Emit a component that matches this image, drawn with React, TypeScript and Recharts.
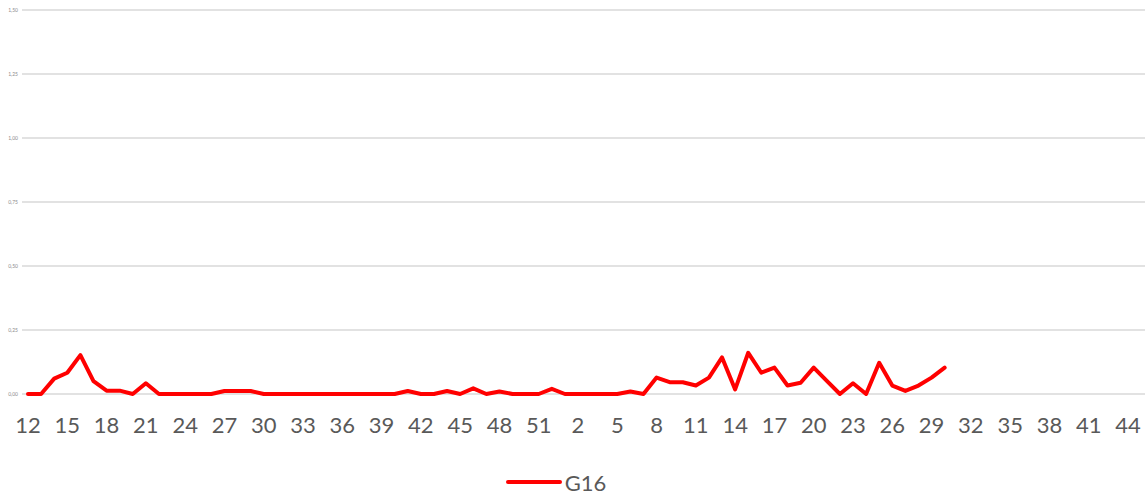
import React from "react";
import { LineChart, Line, XAxis, YAxis, CartesianGrid, Legend } from "recharts";

const weeks2020: string[] = [
  "12","13","14","15","16","17","18","19","20","21","22","23","24","25","26","27","28","29","30","31",
  "32","33","34","35","36","37","38","39","40","41","42","43","44","45","46","47","48","49","50","51","52",
];
const values2020: number[] = [
  0, 0, 0.06, 0.083, 0.152, 0.05, 0.013, 0.013, 0, 0.042, 0, 0, 0, 0, 0, 0.012, 0.012, 0.012, 0, 0,
  0, 0, 0, 0, 0, 0, 0, 0, 0, 0.012, 0, 0, 0.012, 0, 0.022, 0, 0.01, 0, 0, 0, 0.02,
];
const weeks2021: string[] = [
  "1","2","3","4","5","6","7","8","9","10","11","12","13","14","15","16","17","18","19","20","21","22",
  "23","24","25","26","27","28","29","30","31","32","33","34","35","36","37","38","39","40","41","42","43","44",
];
const values2021: (number | null)[] = [
  0, 0, 0, 0, 0, 0.01, 0, 0.064, 0.046, 0.046, 0.033, 0.064, 0.143, 0.018, 0.161, 0.083, 0.103, 0.033,
  0.044, 0.103, 0.051, 0, 0.042, 0, 0.122, 0.033, 0.012, 0.033, 0.064, 0.103,
  null, null, null, null, null, null, null, null, null, null, null, null, null, null,
];
const yTicks: number[] = [0, 0.25, 0.5, 0.75, 1, 1.25, 1.5];
const seriesName = "G16";

const categories = [...weeks2020, ...weeks2021];
const values = [...values2020, ...values2021];
const data = categories.map((w, i) => ({ week: w, G16: values[i] }));

const LegendContent = () => (
  <div style={{ display: "flex", justifyContent: "center", alignItems: "center", height: 26, paddingRight: 34 }}>
    <svg width={58} height={10} style={{ marginRight: 2 }}>
      <line x1={3} y1={5} x2={55} y2={5} stroke="#FF0000" strokeWidth={4} strokeLinecap="round" />
    </svg>
    <span style={{ fontFamily: "Lato, 'Liberation Sans', sans-serif", fontSize: 22, color: "#595959" }}>
      {seriesName}
    </span>
  </div>
);

export default function App() {
  return (
    <div style={{ position: "absolute", left: 0, top: 0, width: 1145, height: 495, background: "#fff" }}>
      <LineChart
        width={1145}
        height={495}
        data={data}
        margin={{ top: 10, right: 0, bottom: 0, left: 0 }}
      >
        <CartesianGrid vertical={false} stroke="#d9d9d9" strokeWidth={1.5} />
        <XAxis
          dataKey="week"
          interval={2}
          axisLine={false}
          tickLine={false}
          tickSize={0}
          tickMargin={23}
          height={75}
          padding={{ left: 6, right: 17 }}
          tick={{ fill: "#595959", fontSize: 22, fontFamily: "Lato, 'Liberation Sans', sans-serif" }}
        />
        <YAxis
          domain={[0, 1.5]}
          ticks={yTicks}
          width={22}
          axisLine={false}
          tickLine={false}
          tickSize={0}
          tickMargin={4}
          tickFormatter={(v: number) => v.toFixed(2).replace(".", ",")}
          tick={{ fill: "#8c8c8c", fontSize: 5, fontFamily: "Lato, sans-serif" }}
        />
        <Legend verticalAlign="bottom" height={26} content={<LegendContent />} />
        <Line
          type="linear"
          dataKey="G16"
          stroke="#FF0000"
          strokeWidth={4}
          dot={false}
          strokeLinejoin="round"
          strokeLinecap="round"
          isAnimationActive={false}
          connectNulls={false}
        />
      </LineChart>
    </div>
  );
}
